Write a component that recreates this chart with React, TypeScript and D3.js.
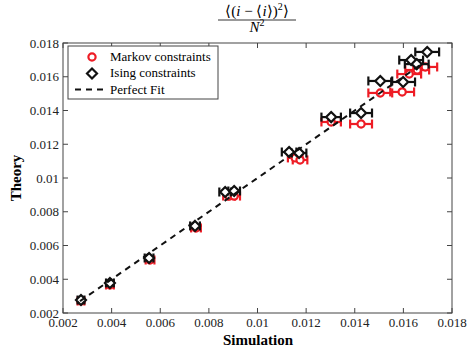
import React from "react";
import { scaleLinear, range } from "d3";

// Markov constraints (red circles)
const markovSim = [0.00274, 0.00393, 0.00558, 0.00747, 0.00883, 0.00904, 0.01155, 0.01175, 0.01303, 0.01426, 0.01505, 0.01595, 0.01624, 0.01657, 0.0169];
const markovTheory = [0.00271, 0.00366, 0.00514, 0.00704, 0.00893, 0.00893, 0.01119, 0.01107, 0.01332, 0.0132, 0.01504, 0.0151, 0.01616, 0.0164, 0.01658];
const markovErr = [0.00014, 0.00016, 0.00018, 0.0002, 0.00024, 0.00024, 0.0003, 0.0003, 0.0004, 0.00045, 0.00049, 0.00049, 0.00049, 0.00049, 0.00049];

// Ising constraints (black diamonds)
const isingSim = [0.00274, 0.00393, 0.00554, 0.00743, 0.00867, 0.00904, 0.0113, 0.01171, 0.01303, 0.01426, 0.01505, 0.01599, 0.01632, 0.01655, 0.01698];
const isingTheory = [0.00277, 0.00378, 0.00526, 0.00716, 0.00917, 0.00923, 0.01154, 0.01148, 0.01361, 0.01385, 0.01575, 0.01569, 0.01699, 0.01675, 0.01747];
const isingErr = [0.00014, 0.00016, 0.00018, 0.0002, 0.00024, 0.00024, 0.0003, 0.0003, 0.0004, 0.00045, 0.00049, 0.00049, 0.00049, 0.00049, 0.00049];

const fitRange = [0.0027, 0.0167];
const ticks = range(0.002, 0.0181, 0.002);
const tickLabels = ["0.002", "0.004", "0.006", "0.008", "0.01", "0.012", "0.014", "0.016", "0.018"];
const legendLabels = ["Markov constraints", "Ising constraints", "Perfect Fit"];

const W = 469, H = 352;
const left = 63, right = 452, top = 43, bottom = 313;
const serif = { fontFamily: '"Liberation Serif"' };
const RED = "#ee1c25";

function ErrorBars({ xs, ys, es, color, x, y }: any) {
  return (
    <g stroke={color} strokeWidth={2.2} fill="none">
      {xs.map((v: number, i: number) => {
        const cy = y(ys[i]);
        const x0 = x(v - es[i]);
        const x1 = x(v + es[i]);
        return (
          <g key={i}>
            <line x1={x0} x2={x1} y1={cy} y2={cy} />
            <line x1={x0} x2={x0} y1={cy - 4.5} y2={cy + 4.5} />
            <line x1={x1} x2={x1} y1={cy - 4.5} y2={cy + 4.5} />
          </g>
        );
      })}
    </g>
  );
}

const diamond = (cx: number, cy: number, r: number) =>
  `M${cx},${cy - r}L${cx + r},${cy}L${cx},${cy + r}L${cx - r},${cy}Z`;

export default function App() {
  const x = scaleLinear().domain([0.002, 0.018]).range([left, right]);
  const y = scaleLinear().domain([0.002, 0.018]).range([bottom, top]);

  return (
    <svg width={W} height={H} style={{ position: "absolute", left: 0, top: 0 }}>
      <rect width={W} height={H} fill="white" />

      {/* title */}
      <g fontSize={15} textAnchor="middle">
        <text x={257} y={16} style={serif}>
          ⟨(<tspan fontStyle="italic">i</tspan> − ⟨<tspan fontStyle="italic">i</tspan>⟩)
          <tspan fontSize={10} dy={-6}>2</tspan>
          <tspan dy={6}>⟩</tspan>
        </text>
        <line x1={218} x2={296} y1={20} y2={20} stroke="black" strokeWidth={0.8} />
        <text x={257} y={32} style={serif}>
          <tspan fontStyle="italic">N</tspan>
          <tspan fontSize={10} dy={-6}>2</tspan>
        </text>
      </g>

      {/* axes box and ticks */}
      <g stroke="#444" strokeWidth={1} fill="none">
        <rect x={left} y={top} width={right - left} height={bottom - top} />
        {ticks.map((t, i) => (
          <g key={i}>
            <line x1={x(t)} x2={x(t)} y1={bottom} y2={bottom - 5} />
            <line x1={x(t)} x2={x(t)} y1={top} y2={top + 5} />
            <line y1={y(t)} y2={y(t)} x1={left} x2={left + 5} />
            <line y1={y(t)} y2={y(t)} x1={right} x2={right - 5} />
          </g>
        ))}
      </g>
      <g fontSize={13} fill="#222">
        {ticks.map((t, i) => (
          <text key={"x" + i} x={x(t)} y={bottom + 14} textAnchor="middle" style={serif}>{tickLabels[i]}</text>
        ))}
        {ticks.map((t, i) => (
          <text key={"y" + i} x={left - 4} y={y(t) + 4.5} textAnchor="end" style={serif}>{tickLabels[i]}</text>
        ))}
      </g>
      <text x={258} y={345} textAnchor="middle" fontSize={15} fontWeight="bold" style={serif}>Simulation</text>
      <text transform={`translate(21,178) rotate(-90)`} textAnchor="middle" fontSize={15} fontWeight="bold" style={serif}>Theory</text>

      {/* Markov */}
      <ErrorBars xs={markovSim} ys={markovTheory} es={markovErr} color={RED} x={x} y={y} />
      {markovSim.map((v, i) => (
        <circle key={i} cx={x(v)} cy={y(markovTheory[i])} r={3.6} fill="white" stroke={RED} strokeWidth={2.2} />
      ))}

      {/* Ising */}
      <ErrorBars xs={isingSim} ys={isingTheory} es={isingErr} color="#111" x={x} y={y} />
      {isingSim.map((v, i) => (
        <path key={i} d={diamond(x(v), y(isingTheory[i]), 5)} fill="white" stroke="#111" strokeWidth={2.2} />
      ))}

      {/* perfect fit */}
      <line x1={x(fitRange[0])} y1={y(fitRange[0])} x2={x(fitRange[1])} y2={y(fitRange[1])}
        stroke="#111" strokeWidth={2} strokeDasharray="6,5" />

      {/* legend */}
      <rect x={68} y={46} width={150} height={53} fill="white" stroke="#444" strokeWidth={1} />
      <circle cx={92} cy={57} r={3.6} fill="white" stroke={RED} strokeWidth={2.2} />
      <path d={diamond(92, 73.5, 5)} fill="white" stroke="#111" strokeWidth={2.2} />
      <line x1={75} x2={108} y1={89.5} y2={89.5} stroke="#111" strokeWidth={2} strokeDasharray="6,5" />
      <g fontSize={13}>
        {legendLabels.map((l, i) => (
          <text key={i} x={110} y={61 + i * 16.3} style={serif}>{l}</text>
        ))}
      </g>
    </svg>
  );
}
